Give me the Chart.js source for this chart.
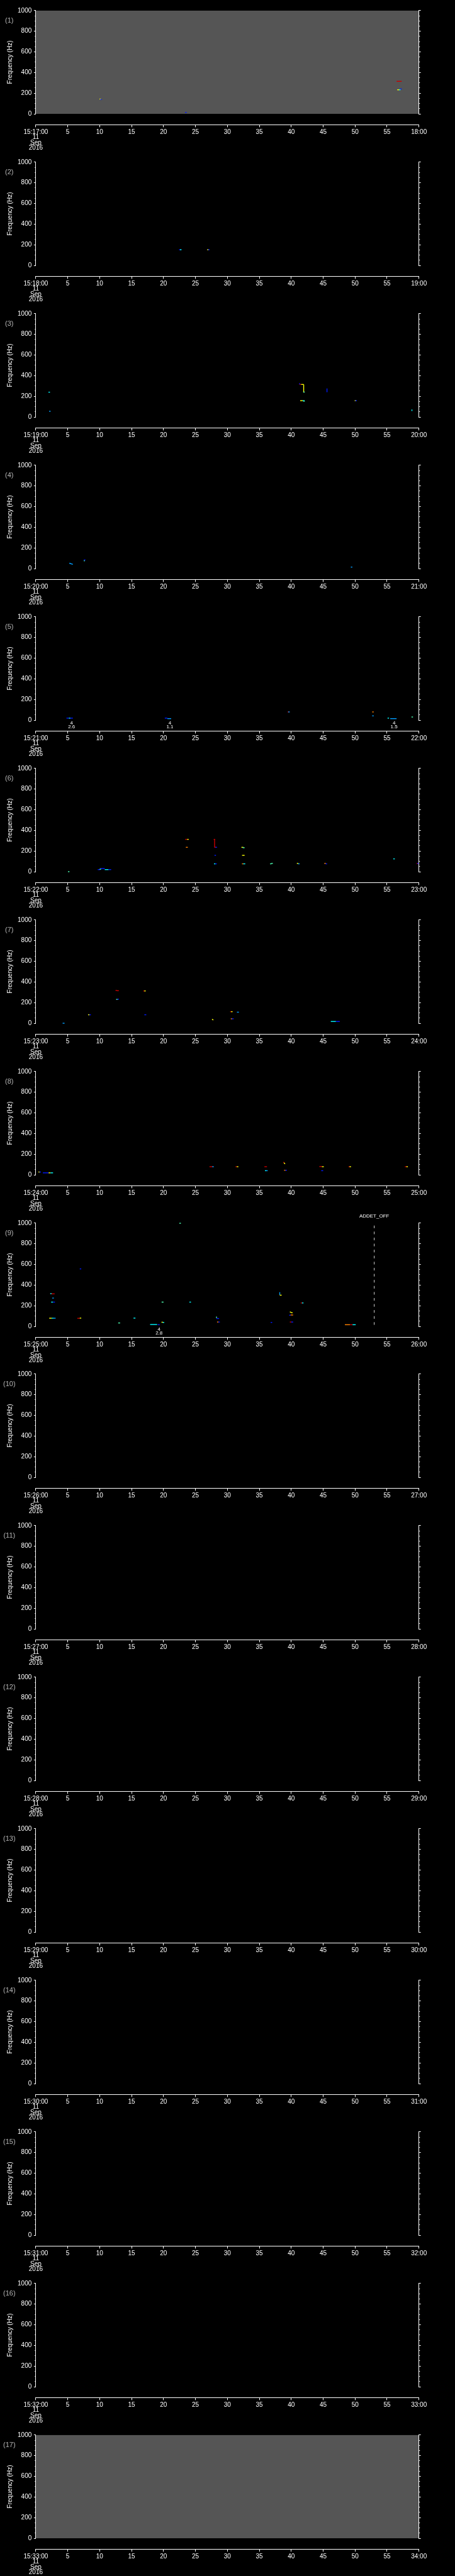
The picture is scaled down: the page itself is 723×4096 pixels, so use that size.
<!DOCTYPE html>
<html>
<head>
<meta charset="utf-8">
<script src="https://cdn.jsdelivr.net/npm/chart.js@4.4.1/dist/chart.umd.min.js"></script>
<style>
  html, body { margin: 0; padding: 0; background: #000; }
  #wrap { position: relative; width: 723px; height: 4096px; background: #000; overflow: hidden; }
  .panel { position: absolute; left: 0; width: 723px; height: 241px; }
</style>
</head>
<body>
<div id="wrap"></div>
<script>
// intensity levels on the jet colour table
const B = 0.15, LB = 0.28, C = 0.37, G = 0.45, Y = 0.62, O = 0.75, R = 0.93;

// each panel covers one minute, 15:MM:00 -> 15:MM+1:00
const startMinutes = [17, 18, 19, 20, 21, 22, 23, 24, 25, 26, 27, 28, 29, 30, 31, 32, 33];
const dayLines = ["11", "Sep", "2016"];
const greyPanels = [1, 17];

// marks: [t0 (s), t1 (s), f0 (Hz), f1 (Hz), level]
const marks1 = [
  [10.0, 10.2, 143, 143, Y], [10.1, 10.3, 139, 139, B], [23.4, 23.6, 14, 14, B],
  [56.5, 57.3, 315, 315, R], [56.6, 56.9, 233, 233, Y], [56.9, 57.1, 233, 233, C], [57.1, 57.3, 243, 240, B]
];
const marks2 = [
  [22.5, 22.6, 152, 152, B], [22.6, 22.8, 152, 152, C], [26.9, 27.0, 152, 152, Y], [27.0, 27.2, 152, 152, B]
];
const marks3 = [
  [2.0, 2.2, 240, 240, C], [2.1, 2.3, 55, 55, LB], [41.3, 41.35, 326, 315, B],
  [41.3, 41.55, 315, 315, R], [41.55, 41.95, 315, 315, Y], [41.95, 41.95, 315, 237, Y], [41.95, 42.05, 241, 241, G],
  [45.6, 45.6, 276, 240, B], [41.4, 41.8, 158, 158, Y], [41.8, 42.1, 158, 158, C], [41.9, 42.1, 153, 153, G],
  [50.0, 50.1, 158, 158, Y], [50.1, 50.2, 158, 158, B], [58.9, 58.9, 72, 58, C]
];
const marks4 = [
  [5.25, 5.8, 52, 40, LB], [7.6, 7.6, 82, 72, G], [7.6, 7.7, 83, 83, B], [49.4, 49.5, 14, 14, LB]
];
const marks5 = [
  [4.8, 5.2, 19, 19, B], [5.2, 5.4, 19, 19, C], [5.4, 5.8, 19, 19, B],
  [20.2, 20.6, 19, 19, B], [20.6, 21.2, 14, 14, LB],
  [39.5, 39.6, 79, 79, R], [39.6, 39.7, 79, 79, LB], [52.7, 52.9, 79, 79, O], [52.7, 52.9, 41, 41, LB],
  [55.1, 55.3, 19, 19, C], [55.5, 56.5, 14, 14, LB], [58.9, 59.0, 30, 30, G]
];
const marks6 = [
  [5.1, 5.2, 0, 0, G],
  [9.7, 10.1, 20, 20, B], [10.1, 10.8, 30, 30, B], [10.0, 10.2, 24, 24, G], [10.8, 11.4, 20, 20, C], [11.4, 11.8, 20, 20, B],
  [23.4, 23.75, 313, 313, R], [23.75, 23.9, 313, 313, Y], [23.5, 23.8, 236, 236, O],
  [27.9, 28.05, 313, 313, R], [28.0, 28.0, 313, 236, R], [28.0, 28.2, 236, 236, R], [28.2, 28.3, 236, 236, B],
  [32.2, 32.5, 236, 236, Y], [32.4, 32.7, 232, 232, G],
  [28.0, 28.2, 158, 158, B], [32.3, 32.7, 158, 158, Y],
  [27.9, 28.15, 76, 76, C], [28.15, 28.3, 76, 76, B], [32.3, 32.5, 76, 76, O], [32.5, 32.8, 76, 76, C],
  [36.7, 36.9, 76, 76, G], [36.9, 37.1, 80, 80, G], [40.9, 41.1, 80, 80, Y], [41.1, 41.3, 76, 76, LB],
  [45.2, 45.4, 80, 80, O], [45.4, 45.6, 76, 76, B], [56.0, 56.2, 124, 124, C],
  [59.7, 59.8, 78, 78, R], [59.8, 59.9, 80, 80, B]
];
const marks7 = [
  [4.2, 4.5, 0, 0, LB], [8.2, 8.4, 82, 82, Y], [8.4, 8.6, 82, 82, B],
  [12.5, 12.7, 318, 318, R], [12.7, 13.0, 315, 315, R], [12.6, 12.8, 231, 231, G], [12.8, 13.0, 233, 233, B],
  [16.9, 17.0, 313, 313, R], [17.0, 17.2, 313, 313, Y], [17.0, 17.3, 82, 82, B], [27.6, 27.8, 38, 32, Y],
  [30.5, 30.6, 112, 112, R], [30.6, 30.8, 112, 112, Y], [31.5, 31.8, 107, 107, LB],
  [30.6, 30.7, 43, 43, O], [30.7, 31.0, 43, 43, B], [46.2, 47.0, 17, 17, C], [47.0, 47.6, 17, 17, B],
  [60.5, 60.7, 26, 26, Y], [60.7, 60.9, 26, 26, B]
];
const marks8 = [
  [0.45, 0.6, 27, 27, Y], [0.6, 0.76, 27, 27, B], [1.1, 2.0, 19, 19, B], [2.0, 2.3, 19, 19, Y], [2.3, 2.7, 19, 19, C],
  [27.2, 27.7, 78, 78, R], [27.7, 27.8, 78, 78, LB], [31.3, 31.5, 78, 78, R], [31.5, 31.7, 78, 78, Y],
  [35.8, 36.2, 78, 78, R], [38.8, 38.9, 121, 116, R], [38.9, 39.0, 113, 107, Y],
  [38.9, 39.1, 44, 44, O], [39.1, 39.3, 44, 44, B], [35.9, 36.1, 40, 40, C], [36.1, 36.3, 40, 40, LB],
  [44.4, 44.8, 80, 80, R], [44.8, 45.1, 78, 78, Y], [44.7, 45.0, 40, 40, B],
  [49.0, 49.2, 78, 78, R], [49.2, 49.3, 78, 78, Y], [57.8, 58.1, 78, 78, R], [58.1, 58.2, 78, 78, Y]
];
const marks9 = [
  [22.5, 22.7, 999, 999, G], [6.9, 7.1, 557, 557, B],
  [2.3, 2.45, 317, 317, C], [2.45, 2.95, 315, 315, R], [2.6, 2.8, 274, 274, LB],
  [2.4, 2.7, 235, 235, C], [2.7, 3.0, 235, 235, B],
  [2.1, 2.5, 79, 79, Y], [2.5, 2.8, 79, 79, C], [2.8, 3.1, 79, 79, LB],
  [6.5, 6.9, 78, 78, R], [6.9, 7.1, 80, 80, Y], [15.3, 15.6, 80, 80, C], [12.9, 13.2, 33, 33, G],
  [17.9, 19.0, 18, 18, C], [19.1, 19.4, 16, 16, B], [19.7, 19.9, 40, 40, Y], [19.9, 20.1, 38, 38, C],
  [19.7, 20.0, 235, 235, G], [24.05, 24.3, 235, 235, C],
  [28.3, 28.3, 95, 80, G], [28.3, 28.7, 76, 76, B], [28.4, 28.6, 42, 42, O], [28.6, 28.8, 42, 42, B],
  [36.8, 37.0, 38, 38, B], [38.2, 38.2, 331, 305, LB], [38.2, 38.5, 302, 302, Y],
  [41.5, 41.7, 227, 227, R], [41.7, 41.9, 227, 227, C],
  [39.8, 40.0, 140, 135, Y], [40.0, 40.2, 132, 132, Y], [39.7, 39.9, 108, 108, B], [39.9, 40.3, 110, 110, O],
  [39.8, 40.0, 42, 42, R], [40.0, 40.3, 42, 42, B],
  [48.4, 49.2, 16, 16, O], [49.2, 49.6, 16, 16, R], [49.6, 50.1, 16, 16, C]
];
const emptyMarks = [];
const allMarks = [marks1, marks2, marks3, marks4, marks5, marks6, marks7, marks8, marks9,
  emptyMarks, emptyMarks, emptyMarks, emptyMarks, emptyMarks, emptyMarks, emptyMarks, emptyMarks];

// small annotations under the plot: [t (s), line 1, line 2]
const notes5 = [[5.6, "4", "2.6"], [21.0, "4", "1.1"], [56.1, "4", "1.5"]];
const notes9 = [[19.3, "4", "2.8"]];
const allNotes = { 5: notes5, 9: notes9 };

// event marker in panel 9
const eventTimes9 = [53.0];
const eventNames9 = ["ADDET_OFF"];
const eventRange9 = [15, 1000];

const FONT = "'Liberation Sans', Arial, sans-serif";
const PANEL_H = 4096 / 17;
const AXIS_GAP_HZ = -104;

function jet(v) {
  const cl = (a) => Math.max(0, Math.min(1, a));
  const r = cl(1.5 - Math.abs(4 * v - 3));
  const g = cl(1.5 - Math.abs(4 * v - 2));
  const b = cl(1.5 - Math.abs(4 * v - 1));
  return `rgb(${Math.round(r * 255)},${Math.round(g * 255)},${Math.round(b * 255)})`;
}

function segPixels(ctx) {
  const m = ctx.raw;
  if (!m || m.t0 === undefined) return null;
  const s = ctx.chart.scales;
  return {
    dx: s.x.getPixelForValue(m.t1) - s.x.getPixelForValue(m.t0),
    dy: s.y.getPixelForValue(m.f1) - s.y.getPixelForValue(m.f0),
  };
}

const panelText = {
  id: "panelText",
  beforeDraw(chart, args, opts) {
    if (!opts.grey) return;
    const a = chart.chartArea;
    chart.ctx.save();
    chart.ctx.fillStyle = "#555555";
    chart.ctx.fillRect(a.left, a.top, a.right - a.left, a.bottom - a.top);
    chart.ctx.restore();
  },
  afterDraw(chart, args, opts) {
    const ctx = chart.ctx;
    const x = chart.scales.x;
    ctx.save();
    ctx.textAlign = "center";
    ctx.textBaseline = "middle";
    ctx.fillStyle = "#b4b4b4";
    ctx.font = `11px ${FONT}`;
    ctx.fillText(`(${opts.num})`, 14.8, 33);
    ctx.fillStyle = "#ffffff";
    ctx.font = `8px ${FONT}`;
    (opts.notes || []).forEach(([t, a, b]) => {
      const px = x.getPixelForValue(t);
      ctx.fillText(a, px, 185.6);
      ctx.fillText(b, px, 192.2);
    });
    (opts.events || []).forEach(([t, name]) => {
      ctx.fillText(name, x.getPixelForValue(t), 6);
    });
    ctx.restore();
  },
};

function yAxis(position, step, tickLen, weight, width, withLabels) {
  return {
    type: "linear",
    axis: "y",
    position: position,
    weight: weight,
    min: 0,
    max: 1000,
    afterFit: (s) => { s.width = width; },
    grid: { drawOnChartArea: false, drawTicks: true, tickLength: tickLen, color: "#ffffff", lineWidth: 1 },
    border: { display: withLabels !== null, color: "#ffffff", width: 1 },
    ticks: {
      display: !!withLabels,
      stepSize: step,
      padding: 3.6,
      color: "#ffffff",
      font: { family: FONT, size: 10 },
      callback: (v) => String(v),
    },
    title: {
      display: !!withLabels,
      text: "Frequency (Hz)",
      color: "#ffffff",
      font: { family: FONT, size: 10 },
      padding: { top: 10, bottom: 0 },
    },
  };
}

const wrap = document.getElementById("wrap");

allMarks.forEach((marks, i) => {
  const num = i + 1;
  const div = document.createElement("div");
  div.className = "panel";
  div.style.top = Math.round(i * PANEL_H) + "px";
  const canvas = document.createElement("canvas");
  canvas.width = 723;
  canvas.height = 241;
  div.appendChild(canvas);
  wrap.appendChild(div);

  const startMin = startMinutes[i];
  const datasets = [{
    data: marks.map(([t0, t1, f0, f1, lv]) => ({ x: (t0 + t1) / 2, y: (f0 + f1) / 2, t0, t1, f0, f1, lv })),
    showLine: false,
    clip: false,
    pointStyle: "line",
    pointBorderWidth: 1.4,
    pointBorderColor: (ctx) => (ctx.raw ? jet(ctx.raw.lv) : "#fff"),
    pointRadius: (ctx) => {
      const p = segPixels(ctx);
      return p ? Math.max(1.2, Math.hypot(p.dx, p.dy) / 2) : 1;
    },
    pointRotation: (ctx) => {
      const p = segPixels(ctx);
      return p ? (Math.atan2(p.dy, p.dx) * 180) / Math.PI : 0;
    },
  }];

  let events = [];
  if (num === 9) {
    eventTimes9.forEach((t, k) => {
      datasets.push({
        data: [{ x: t, y: eventRange9[0] }, { x: t, y: eventRange9[1] }],
        showLine: true,
        borderColor: "#d8d8d8",
        borderWidth: 1,
        borderDash: [4.2, 5.4],
        pointRadius: 0,
      });
      events.push([t, eventNames9[k]]);
    });
  }

  new Chart(canvas, {
    type: "scatter",
    data: { datasets },
    options: {
      responsive: false,
      animation: false,
      events: [],
      layout: { padding: { left: 0, right: 0, top: 16.9, bottom: 60 } },
      plugins: {
        legend: { display: false },
        tooltip: { enabled: false },
        panelText: { num, grey: greyPanels.includes(num), notes: allNotes[num], events },
      },
      scales: {
        x: {
          type: "linear",
          axis: "x",
          position: { y: AXIS_GAP_HZ },
          min: 0,
          max: 60,
          grid: { drawOnChartArea: false, drawTicks: true, tickLength: 3.3, color: "#ffffff" },
          border: { display: true, color: "#ffffff", width: 1 },
          ticks: {
            stepSize: 5,
            autoSkip: false,
            maxRotation: 0,
            padding: 4.4,
            color: "#ffffff",
            font: { family: FONT, size: 10, lineHeight: "8.5px" },
            callback: (v) => {
              if (v === 0) return [`15:${startMin}:00`, ...dayLines];
              if (v === 60) return `${startMin + 1}:00`;
              return String(v);
            },
          },
        },
        y: yAxis("left", 200, 3, 2, 56.9, true),
        yMinL: yAxis("left", 50, 1.6, 1, 0, null),
        yR: yAxis("right", 200, 3, 2, 57.3, false),
        yMinR: yAxis("right", 50, 1.6, 1, 0, null),
      },
    },
    plugins: [panelText],
  });
});
</script>
</body>
</html>
